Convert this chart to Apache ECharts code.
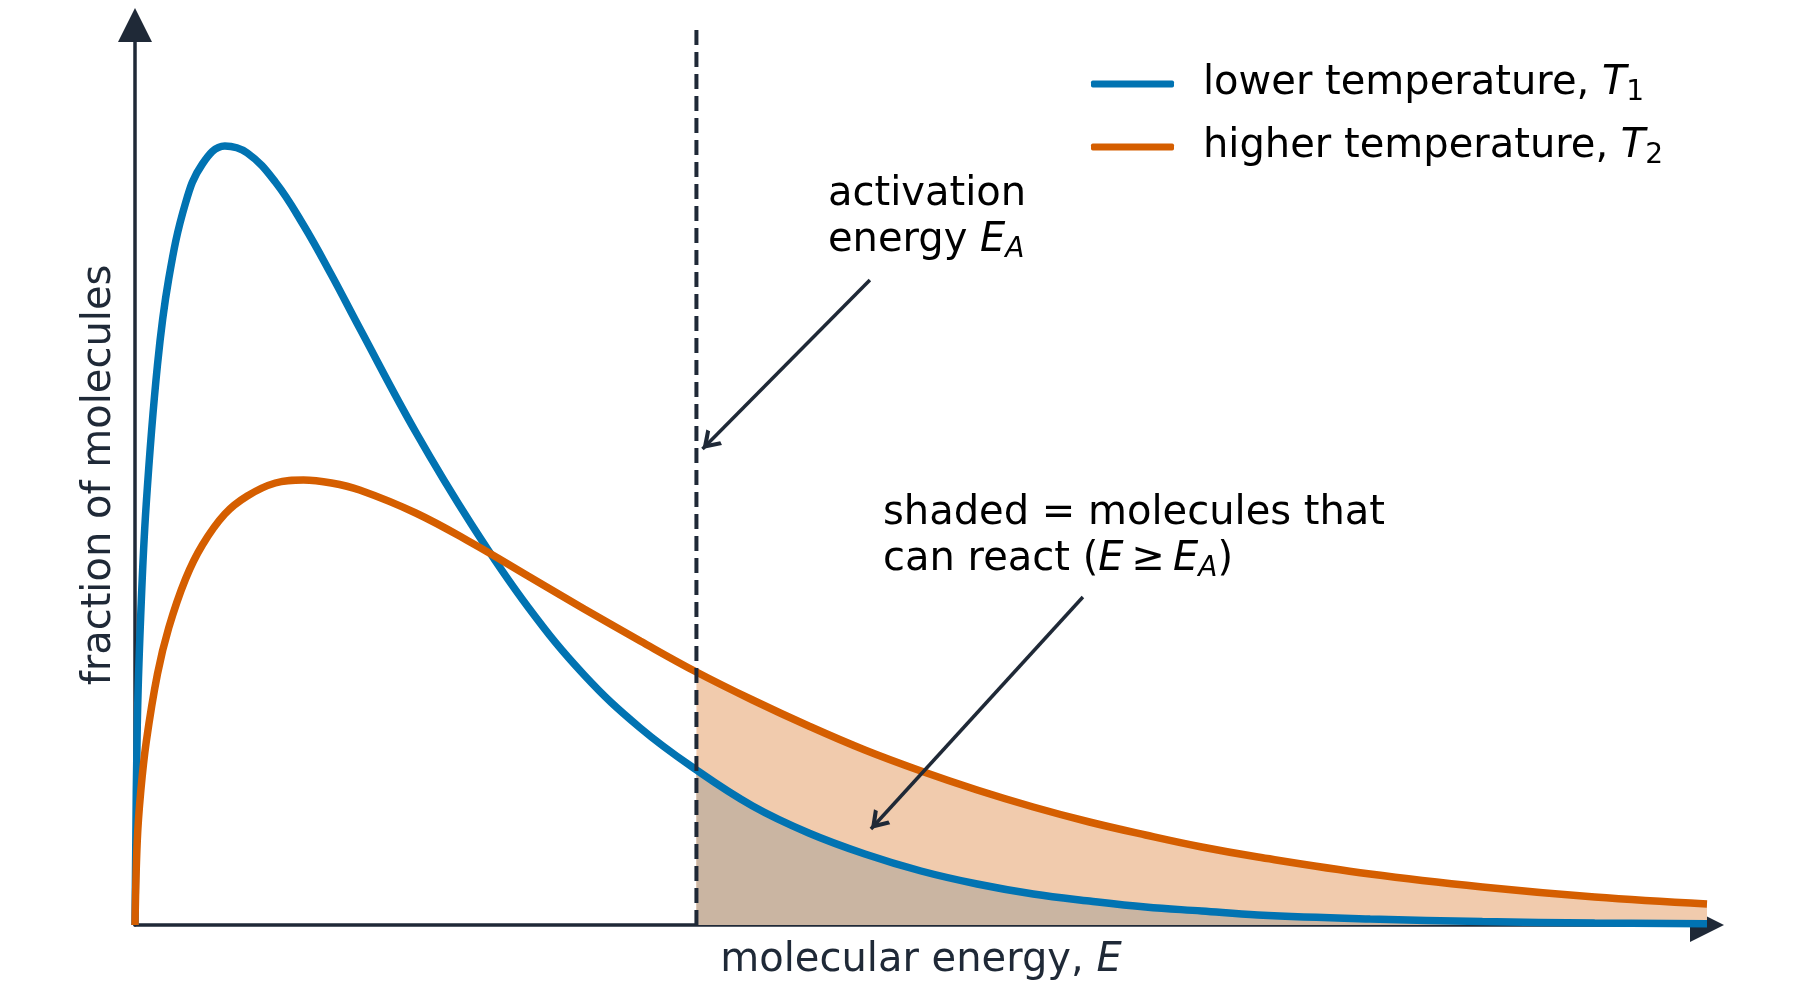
<!DOCTYPE html>
<html>
<head>
<meta charset="utf-8">
<title>Maxwell-Boltzmann</title>
<script src="https://cdn.jsdelivr.net/npm/echarts@6/dist/echarts.min.js"></script>
<style>
    html, body { margin: 0; padding: 0; background: #fff; }
    #chart { width: 1800px; height: 1001px; }
</style>
</head>
<body>
<div id="chart"></div>
<script>
// energies (x) shared by both curves
const energy = [0, 0.02, 0.05, 0.1, 0.2, 0.3, 0.45, 0.6, 0.8, 1.0, 1.25, 1.5, 1.75, 2.0, 2.5, 3.0, 3.5, 4.0, 4.5, 5.0, 5.5, 6.0, 6.5, 7.0, 7.5, 8.0, 8.5, 9.0, 9.5, 10.0, 11.0, 12.0, 13.0, 14.0];
const lowT = [0, 1.98, 3.07, 4.21, 5.6, 6.46, 7.22, 7.61, 7.79, 7.72, 7.43, 7.0, 6.5, 5.97, 4.93, 4.0, 3.18, 2.5, 1.97, 1.55, 1.19, 0.92, 0.71, 0.54, 0.41, 0.31, 0.24, 0.18, 0.14, 0.1, 0.06, 0.035, 0.02, 0.012];
const highT = [0, 0.84, 1.32, 1.83, 2.51, 2.97, 3.46, 3.8, 4.11, 4.29, 4.42, 4.45, 4.42, 4.35, 4.12, 3.82, 3.49, 3.16, 2.84, 2.53, 2.25, 1.99, 1.75, 1.54, 1.35, 1.18, 1.03, 0.9, 0.78, 0.68, 0.51, 0.38, 0.28, 0.21];
const activationEnergy = 5;
const dashTop = 8.96;
const seriesNames = ['lower temperature, T1', 'higher temperature, T2'];
// annotation arrows: [start, tip] in data units
const arrowEa = [[6.545, 6.45], [5.054, 4.76]];
const arrowShade = [[8.442, 3.28], [6.554, 0.96]];

const FONT = 'DejaVu Sans';
const INK = '#1f2937';
const BLUE = '#0173b2';
const ORANGE = '#d55e00';

const pts = (ys) => energy.map((e, i) => [e, ys[i]]);
const tail = (ys) => pts(ys).filter(p => p[0] >= activationEnergy);

const rich = {
    i: { fontStyle: 'italic', fontSize: 40, fontFamily: FONT, lineHeight: 46 },
    s: { fontSize: 28, fontFamily: FONT, verticalAlign: 'bottom', lineHeight: 24 }
};
const richFill = {
    i: { fontStyle: 'italic', fontSize: 40, fontFamily: FONT, lineHeight: 46, fill: '#000' },
    si: { fontStyle: 'italic', fontSize: 28, fontFamily: FONT, verticalAlign: 'bottom', lineHeight: 24, fill: '#000' }
};

// open chevron head; tip sits at the centre of its box so the shaft reaches the tip
const headPath = 'path://M6,-10 L6,-10 M0,9.2 L6,0 L12,9.2 L9.9,10 L6,4.2 L2.1,10 Z';

let chart;

function init() {
    chart = echarts.init(document.getElementById('chart'));

    let options = {
        animation: false,
        backgroundColor: '#fff',
        grid: { left: 135, right: 93, top: 25, bottom: 76 },
        legend: {
            orient: 'vertical',
            left: 1086,
            top: 56,
            itemGap: 17,
            itemWidth: 83,
            itemHeight: 7,
            icon: 'roundRect',
            data: seriesNames,
            formatter: name => name === seriesNames[0]
                ? 'lower temperature, {i|T}{s|1}'
                : 'higher temperature, {i|T}{s|2}',
            textStyle: {
                fontFamily: FONT, fontSize: 40, color: '#000', lineHeight: 46, padding: [0, 0, 0, 24],
                rich: rich
            }
        },
        xAxis: {
            type: 'value', min: 0, max: 14,
            name: 'molecular energy, {i|E}',
            nameLocation: 'middle',
            nameGap: 16,
            nameTextStyle: {
                fontFamily: FONT, fontSize: 40, color: INK, verticalAlign: 'top',
                rich: { i: { fontStyle: 'italic', fontSize: 40, fontFamily: FONT, color: INK } }
            },
            axisLine: { show: true, symbol: ['none', 'triangle'], symbolSize: [34, 34], lineStyle: { color: INK, width: 3.5 } },
            axisTick: { show: false },
            axisLabel: { show: false },
            splitLine: { show: false }
        },
        yAxis: {
            type: 'value', min: 0, max: 9,
            name: 'fraction of molecules',
            nameLocation: 'middle',
            nameRotate: 90,
            nameGap: 15,
            nameTextStyle: { fontFamily: FONT, fontSize: 40, color: INK },
            axisLine: { show: true, symbol: ['none', 'triangle'], symbolSize: [34, 34], lineStyle: { color: INK, width: 3.5 } },
            axisTick: { show: false },
            axisLabel: { show: false },
            splitLine: { show: false }
        },
        graphic: [
            {
                type: 'text', x: 828, y: 172, z: 100,
                style: {
                    text: 'activation\nenergy {i|E}{si|A}',
                    fontFamily: FONT, fontSize: 40, fill: '#000', lineHeight: 46,
                    rich: richFill
                }
            },
            {
                type: 'text', x: 883, y: 491, z: 100,
                style: {
                    text: 'shaded = molecules that\ncan react ({i|E}\u2009\u2265\u2009{i|E}{si|A})',
                    fontFamily: FONT, fontSize: 40, fill: '#000', lineHeight: 46,
                    rich: richFill
                }
            }
        ],
        series: [
            {
                name: 'shade high',
                type: 'line', data: tail(highT), smooth: 0.4,
                symbol: 'none', silent: true, z: 1,
                lineStyle: { width: 0 },
                areaStyle: { color: '#f1cbad', opacity: 1 }
            },
            {
                name: 'shade low',
                type: 'line', data: tail(lowT), smooth: 0.4,
                symbol: 'none', silent: true, z: 2,
                lineStyle: { width: 0 },
                areaStyle: { color: '#cab5a2', opacity: 1 }
            },
            {
                name: seriesNames[0],
                type: 'line', data: pts(lowT), smooth: 0.4,
                symbol: 'none', z: 3,
                itemStyle: { color: BLUE },
                lineStyle: { color: BLUE, width: 7.5 }
            },
            {
                name: seriesNames[1],
                type: 'line', data: pts(highT), smooth: 0.4,
                symbol: 'none', z: 4,
                itemStyle: { color: ORANGE },
                lineStyle: { color: ORANGE, width: 7.5 }
            },
            {
                name: 'activation',
                type: 'line', data: [[activationEnergy, 0], [activationEnergy, dashTop]],
                symbol: 'none', z: 5, silent: true,
                lineStyle: { color: INK, width: 4, type: [15, 7] },
                markLine: {
                    silent: true,
                    symbol: ['none', headPath],
                    symbolSize: [22, 36],
                    label: { show: false },
                    lineStyle: { color: INK, width: 3.5, type: 'solid' },
                    data: [
                        [{ coord: arrowEa[0] }, { coord: arrowEa[1] }],
                        [{ coord: arrowShade[0] }, { coord: arrowShade[1] }]
                    ]
                }
            }
        ]
    };

    chart.setOption(options);
}

window.onload = init;
</script>
</body>
</html>
